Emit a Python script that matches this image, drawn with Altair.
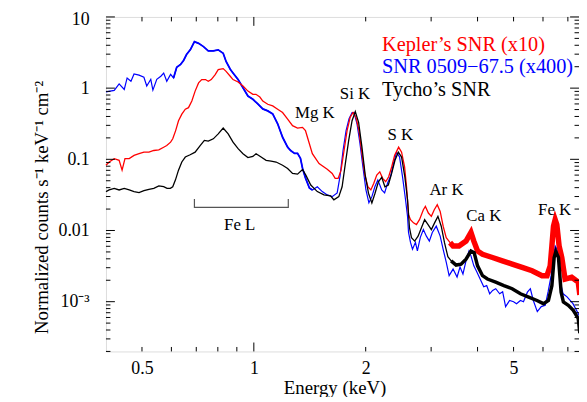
import altair as alt
import pandas as pd

# ---------------- data ----------------
tycho_E = [0.400,0.408,0.421,0.434,0.448,0.462,0.476,0.491,0.506,0.522,
           0.538,0.555,0.572,0.584,0.596,0.605,0.615,0.627,0.640,0.654,
           0.674,0.695,0.717,0.736,0.754,0.778,0.802,0.827,0.853,0.879,
           0.907,0.935,0.964,0.994,1.014,1.046,1.079,1.113,1.148,1.195,
           1.233,1.271,1.311,1.352,1.380,1.423,1.482,1.544,1.608,1.642,
           1.693,1.728,1.763,1.800,1.838,1.875,1.914,1.954,1.994,2.035,
           2.078,2.119,2.164,2.209,2.253,2.301,2.349,2.398,2.448,2.498,
           2.549,2.592,2.623,2.656,2.709,2.767,2.825,2.882,2.943,3.004,
           3.065,3.129,3.194,3.259,3.328,3.396,3.502,3.611,3.724,3.840,
           3.916,4.000,4.125,4.253,4.476,4.709,4.957,5.218,5.491,5.780,
           6.019,6.206,6.340,6.430,6.498,6.603,6.713,6.808,7.019,7.238,
           7.464,7.54]
tycho_F = [0.0352,0.0371,0.0391,0.0371,0.0391,0.0371,0.0352,0.0341,0.0363,0.0379,
           0.0391,0.0422,0.0412,0.0391,0.0391,0.0412,0.0511,0.0704,0.0917,0.1077,
           0.116,0.126,0.156,0.184,0.180,0.194,0.228,0.275,0.228,0.174,
           0.141,0.120,0.1057,0.110,0.120,0.1077,0.0968,0.0946,0.0917,0.0826,
           0.0743,0.0633,0.0619,0.0719,0.0600,0.0435,0.0352,0.0316,0.0306,0.0270,
           0.0299,0.0412,0.0871,0.184,0.348,0.469,0.330,0.148,0.0600,0.0334,
           0.0243,0.0334,0.0484,0.0557,0.0412,0.0435,0.0633,0.0968,0.126,0.1077,
           0.0568,0.0270,0.0110,0.00792,0.00710,0.00833,0.0109,0.0142,0.0121,0.0103,
           0.0128,0.0158,0.0115,0.00675,0.00429,0.00375,0.00327,0.00337,0.00396,0.00516,
           0.00489,0.00319,0.00232,0.00208,0.00188,0.00168,0.00152,0.00129,0.00116,0.00104,
           0.000938,0.00104,0.00168,0.00418,0.00506,0.00418,0.00136,0.00099,0.000889,0.000757,
           0.000581,0.00036]

kepler_E = [0.400,0.408,0.421,0.434,0.442,0.450,0.462,0.476,0.491,0.506,
            0.522,0.538,0.555,0.572,0.583,0.597,0.605,0.616,0.627,0.640,
            0.654,0.667,0.681,0.695,0.710,0.724,0.741,0.754,0.768,0.787,
            0.802,0.827,0.842,0.864,0.879,0.907,0.935,0.964,0.994,1.013,
            1.038,1.057,1.090,1.124,1.159,1.195,1.233,1.271,1.311,1.352,
            1.377,1.394,1.437,1.498,1.576,1.625,1.655,1.686,1.717,1.749,
            1.782,1.816,1.849,1.883,1.918,1.954,1.990,2.027,2.065,2.103,
            2.142,2.182,2.222,2.264,2.306,2.349,2.393,2.453,2.498,2.545,
            2.576,2.608,2.640,2.689,2.739,2.791,2.859,2.895,2.949,3.004,
            3.059,3.116,3.173,3.232,3.294,3.374,3.437,3.566,3.724,3.840,
            3.909,4.000,4.125,4.386,4.665,4.957,5.272,5.607,5.964,6.151,
            6.274,6.340,6.403,6.470,6.537,6.631,6.741,6.880,7.166,7.464,
            7.54]
kepler_F = [0.0826,0.0917,0.1023,0.0968,0.0704,0.1023,0.1023,0.1137,0.120,0.126,
            0.126,0.133,0.136,0.148,0.156,0.174,0.194,0.253,0.348,0.431,
            0.506,0.532,0.659,0.908,1.185,1.32,1.32,1.25,1.32,1.55,
            1.82,1.88,1.72,1.47,1.32,1.22,1.07,0.908,0.818,0.818,
            0.750,0.659,0.594,0.562,0.506,0.454,0.367,0.297,0.275,0.281,
            0.253,0.204,0.120,0.0871,0.0726,0.0633,0.0540,0.0540,0.0704,0.133,
            0.253,0.387,0.454,0.387,0.253,0.121,0.0600,0.0412,0.0371,0.0460,
            0.0600,0.0667,0.0540,0.0484,0.0568,0.0781,0.1137,0.148,0.126,0.0781,
            0.0412,0.0167,0.0142,0.0128,0.0121,0.0142,0.0196,0.0218,0.0176,0.0158,
            0.0196,0.0230,0.0185,0.0115,0.00792,0.00675,0.00605,0.00605,0.00710,0.00938,
            0.00710,0.00516,0.00464,0.00418,0.00375,0.00337,0.00303,0.00272,0.00232,0.00232,
            0.00319,0.00605,0.0115,0.0142,0.0121,0.00605,0.00418,0.00208,0.00220,0.00188,
            0.00125]

snr_E = [0.400,0.421,0.434,0.448,0.456,0.467,0.476,0.491,0.506,0.515,
         0.528,0.535,0.548,0.562,0.572,0.583,0.597,0.608,0.620,0.635,
         0.647,0.659,0.675,0.692,0.710,0.732,0.754,0.778,0.802,0.827,
         0.842,0.864,0.879,0.907,0.935,0.964,0.994,1.025,1.057,1.090,
         1.124,1.159,1.195,1.233,1.256,1.287,1.311,1.335,1.352,1.377,
         1.411,1.437,1.482,1.528,1.576,1.625,1.676,1.706,1.738,1.771,
         1.804,1.838,1.861,1.895,1.930,1.966,2.003,2.040,2.078,2.117,
         2.156,2.209,2.249,2.291,2.334,2.377,2.422,2.467,2.513,2.560,
         2.592,2.608,2.640,2.673,2.722,2.755,2.806,2.859,2.913,2.967,
         3.022,3.097,3.173,3.232,3.294,3.354,3.437,3.523,3.588,3.654,
         3.724,3.793,3.840,3.909,3.983,4.082,4.156,4.233,4.312,4.392,
         4.476,4.588,4.673,4.759,4.879,5.000,5.093,5.218,5.316,5.448,
         5.548,5.651,5.792,5.936,6.084,6.194,6.311,6.390,6.470,6.549,
         6.631,6.713,6.797,6.965,7.224,7.54]
snr_F = [0.888,0.929,1.15,0.959,1.39,1.25,1.58,1.52,1.42,1.07,
         1.33,0.938,1.33,1.47,1.63,1.25,1.56,1.39,1.96,2.15,
         2.45,2.97,3.48,4.50,4.26,3.83,3.34,3.34,3.45,3.09,
         2.37,1.84,1.63,1.32,1.01,0.774,0.697,0.599,0.511,0.479,
         0.435,0.316,0.204,0.148,0.133,0.121,0.121,0.103,0.0750,0.0545,
         0.0395,0.0371,0.0412,0.0352,0.0316,0.0299,0.0337,0.0581,0.133,0.253,
         0.371,0.454,0.454,0.316,0.167,0.0781,0.0371,0.0245,0.0299,0.0412,
         0.0511,0.0371,0.0337,0.0464,0.0581,0.0880,0.125,0.1077,0.0568,0.0270,
         0.0158,0.00938,0.00681,0.00545,0.00681,0.00516,0.00800,0.0103,0.00833,0.00710,
         0.00938,0.0115,0.00833,0.00545,0.00359,0.00232,0.00287,0.00222,0.00306,0.00245,
         0.00375,0.00516,0.00440,0.00319,0.00261,0.00198,0.00162,0.00168,0.00129,0.00144,
         0.00152,0.00129,0.00138,0.000853,0.00104,0.0010,0.000938,0.00104,0.0010,0.00136,
         0.00152,0.00104,0.000726,0.000853,0.000889,0.00138,0.00232,0.00396,0.00605,0.00545,
         0.00319,0.00168,0.00129,0.00117,0.000938,0.000619]

series_names = ["Kepler\u2019s SNR (x10)", "SNR 0509\u221267.5 (x400)", "Tycho\u2019s SNR"]
series_colors = ["#ff0000", "#0000ff", "#000000"]

line_labels = ["Mg K", "Si K", "S K", "Ar K", "Ca K", "Fe K", "Fe L"]
line_label_E = [1.459, 1.872, 2.48, 3.30, 4.16, 6.45, 0.916]
line_label_F = [0.383, 0.697, 0.184, 0.0316, 0.01346, 0.01668, 0.0103]

bracket_E = [0.692, 0.692, 1.238, 1.238]
bracket_F = [0.0278, 0.0211, 0.0211, 0.0278]

x_tick_labels = [0.5, 1, 2, 5]
y_tick_labels = [0.001, 0.01, 0.1, 1, 10]
x_major_ticks = [1]
x_minor_ticks = [0.5, 0.6, 0.7, 0.8, 0.9, 2, 3, 4, 5, 6, 7]
y_major_ticks = [0.001, 0.01, 0.1, 1, 10]
y_minor_ticks = [m * d for d in [1e-4, 1e-3, 1e-2, 1e-1, 1] for m in range(2, 10)
                 if m * d >= 2e-4]

# ---------------- chart ----------------
W, H = 478, 338
FONT = "Liberation Serif"

x_scale = alt.Scale(type="log", domain=[0.4, 7.5], nice=False)
y_scale = alt.Scale(type="log", domain=[2e-4, 10], nice=False)

x_axis = alt.Axis(values=x_tick_labels, labelExpr="toString(datum.value)",
                  title="Energy (keV)", ticks=False, tickSize=0, domain=False, grid=False,
                  labelPadding=8, labelFontSize=18, labelFont=FONT, labelColor="black",
                  titleFont=FONT, titleFontSize=19, titleFontWeight="normal", titleColor="black",
                  titleX=231, titleY=43, titleBaseline="alphabetic", titleAlign="center")
y_axis = alt.Axis(values=y_tick_labels,
                  labelExpr="datum.value < 0.005 ? '10\u207b\u00b3' : toString(datum.value)",
                  title="Normalized counts s\u207b\u00b9 keV\u207b\u00b9 cm\u207b\u00b2",
                  ticks=False, tickSize=0, domain=False, grid=False,
                  labelFlush=True, labelFlushOffset=6,
                  labelPadding=17, labelFontSize=18, labelFont=FONT, labelColor="black",
                  titleFont=FONT, titleFontSize=19, titleFontWeight="normal", titleColor="black",
                  titleX=-59, titleY=192, titleAngle=270, titleBaseline="alphabetic",
                  titleAlign="center")


def X():
    return alt.X("E:Q", scale=x_scale, axis=x_axis)


def Y():
    return alt.Y("flux:Q", scale=y_scale, axis=y_axis)


def spectrum(E, F, color, width, band_width=None, band_range=None):
    df = pd.DataFrame({"E": E, "flux": F})
    base = alt.Chart(df)
    out = [base.mark_line(color=color, strokeWidth=width).encode(x=X(), y=Y())]
    if band_range is not None:
        lo, hi = band_range
        out.append(base.transform_filter(
            f"datum.E >= {lo} && datum.E <= {hi}").mark_line(
            color=color, strokeWidth=band_width).encode(x=X(), y=Y()))
    return out


layers = []
layers += spectrum(snr_E, snr_F, series_colors[1], 1.2, band_width=1.8, band_range=(0.6, 1.45))
layers += spectrum(kepler_E, kepler_F, series_colors[0], 1.3, band_width=5.5, band_range=(3.3, 8))
layers += spectrum(tycho_E, tycho_F, series_colors[2], 1.3, band_width=3.5, band_range=(3.35, 8))

# Fe L bracket
bracket_df = pd.DataFrame({"E": bracket_E, "flux": bracket_F, "i": list(range(len(bracket_E)))})
layers.append(alt.Chart(bracket_df).mark_line(color="#555555", strokeWidth=1.2).encode(
    x=X(), y=Y(), order="i:Q"))

# line identifications
lab_df = pd.DataFrame({"E": line_label_E, "flux": line_label_F, "t": line_labels})
layers.append(alt.Chart(lab_df).mark_text(font=FONT, fontSize=17, align="center",
                                          baseline="alphabetic", color="black").encode(
    x=X(), y=Y(), text="t:N"))

# legend texts
for i, (name, col) in enumerate(zip(series_names, series_colors)):
    layers.append(alt.Chart(pd.DataFrame({"t": [name]})).mark_text(
        font=FONT, fontSize=20.5, align="left", baseline="alphabetic", color=col).encode(
        x=alt.value(279), y=alt.value(34 + 23 * i), text="t:N"))


# inward ticks on all four sides
def xticks(vals, length):
    d = pd.DataFrame({"E": vals})
    bot = alt.Chart(d).mark_rule(color="black", strokeWidth=1).encode(
        x=X(), y=alt.value(H), y2=alt.value(H - length))
    top = alt.Chart(d).mark_rule(color="black", strokeWidth=1).encode(
        x=X(), y=alt.value(0), y2=alt.value(length))
    return [bot, top]


def yticks(vals, length):
    d = pd.DataFrame({"flux": vals})
    left = alt.Chart(d).mark_rule(color="black", strokeWidth=1).encode(
        y=Y(), x=alt.value(0), x2=alt.value(length))
    right = alt.Chart(d).mark_rule(color="black", strokeWidth=1).encode(
        y=Y(), x=alt.value(W), x2=alt.value(W - length))
    return [left, right]


layers += xticks(x_major_ticks, 9)
layers += xticks(x_minor_ticks, 4.5)
layers += yticks(y_major_ticks, 9)
layers += yticks(y_minor_ticks, 4.5)

chart = alt.layer(*layers).properties(
    width=W, height=H,
    padding={"left": 99, "top": 7, "right": 0, "bottom": 44},
    autosize=alt.AutoSizeParams(type="none"),
).configure_view(stroke="black", strokeWidth=1.2).configure(background="white")

chart.save("out.html", embed_options={"renderer": "svg", "actions": False})
